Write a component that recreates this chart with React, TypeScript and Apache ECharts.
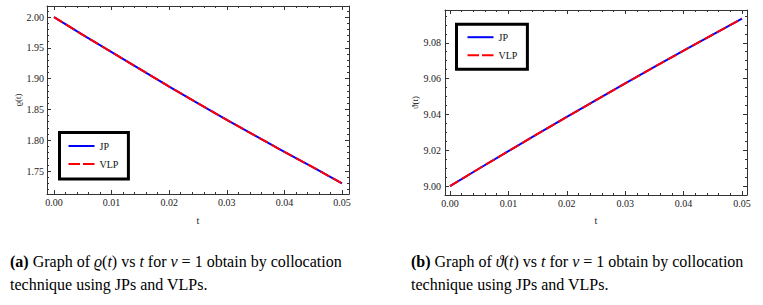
import React, { useEffect, useRef } from "react";
import * as echarts from "echarts";

// ---- data ----
const T = [0, 0.005, 0.01, 0.015, 0.02, 0.025, 0.03, 0.035, 0.04, 0.045, 0.05];
const RHO_JP = [2.0, 1.971, 1.943, 1.915, 1.887, 1.86, 1.833, 1.807, 1.781, 1.756, 1.73];
const RHO_VLP = [2.0, 1.971, 1.943, 1.915, 1.887, 1.86, 1.833, 1.807, 1.781, 1.756, 1.73];
const THETA_JP = [9.0, 9.0098, 9.0195, 9.0291, 9.0386, 9.048, 9.0573, 9.0665, 9.0756, 9.0846, 9.0935];
const THETA_VLP = [9.0, 9.0098, 9.0195, 9.0291, 9.0386, 9.048, 9.0573, 9.0665, 9.0756, 9.0846, 9.0935];

// ---- tick labels ----
const T_TICKS = [0, 0.01, 0.02, 0.03, 0.04, 0.05];
const RHO_TICKS = [1.75, 1.8, 1.85, 1.9, 1.95, 2.0];
const THETA_TICKS = [9.0, 9.02, 9.04, 9.06, 9.08];

const SERIES_NAMES = ["JP", "VLP"];
const FONT = "Liberation Serif";
const FRAME = "#333";
const BLUE = "#0000ff";
const RED = "#ff0000";
const DASH = [10, 4];

function minorTicks(start: number, step: number, lo: number, hi: number): number[] {
  const out: number[] = [];
  for (let i = 0; i < 200; i++) {
    const v = +(start + i * step).toFixed(6);
    if (v > hi) break;
    if (v > lo && v < hi) out.push(v);
  }
  return out;
}

function pairs(xs: number[], ys: number[]) {
  return xs.map((x, i) => [x, ys[i]]);
}

type Panel = {
  grid: any;
  xMin: number; xMax: number; yMin: number; yMax: number;
  yTicks: number[]; yMinorStep: number; yMinorStart: number;
  xMinorStep: number;
  yName: string; xNameGap: number; yNameGap: number;
  labelMarginY: number;
};

function buildAxes(p: Panel, g: number) {
  const xMinor = minorTicks(0, p.xMinorStep, p.xMin, p.xMax);
  const yMinor = minorTicks(p.yMinorStart, p.yMinorStep, p.yMin, p.yMax);
  const lineStyle = { color: FRAME, width: 1 };
  const base = (min: number, max: number) => ({
    type: "value",
    gridIndex: g,
    min,
    max,
    scale: true,
    splitLine: { show: false },
  });
  const xAxes = [
    {
      ...base(p.xMin, p.xMax),
      position: "bottom",
      axisLine: { show: true, onZero: false, lineStyle },
      axisTick: { show: true, inside: true, length: 4, customValues: T_TICKS, lineStyle },
      axisLabel: {
        show: true,
        customValues: T_TICKS,
        formatter: (v: number) => v.toFixed(2),
        fontFamily: FONT,
        fontSize: 10,
        color: "#222",
        margin: 3,
      },
      name: "t",
      nameLocation: "middle",
      nameGap: p.xNameGap,
      nameTextStyle: { fontFamily: FONT, fontSize: 10, color: "#222" },
    },
    {
      ...base(p.xMin, p.xMax),
      position: "bottom",
      axisLine: { show: false, onZero: false },
      axisTick: { show: true, inside: true, length: 2, customValues: xMinor, lineStyle },
      axisLabel: { show: false },
    },
    {
      ...base(p.xMin, p.xMax),
      position: "top",
      axisLine: { show: true, onZero: false, lineStyle },
      axisTick: { show: true, inside: true, length: 4, customValues: T_TICKS, lineStyle },
      axisLabel: { show: false },
    },
    {
      ...base(p.xMin, p.xMax),
      position: "top",
      axisLine: { show: false, onZero: false },
      axisTick: { show: true, inside: true, length: 2, customValues: xMinor, lineStyle },
      axisLabel: { show: false },
    },
  ];
  const yAxes = [
    {
      ...base(p.yMin, p.yMax),
      position: "left",
      axisLine: { show: true, onZero: false, lineStyle },
      axisTick: { show: true, inside: true, length: 4, customValues: p.yTicks, lineStyle },
      axisLabel: {
        show: true,
        customValues: p.yTicks,
        formatter: (v: number) => v.toFixed(2),
        fontFamily: FONT,
        fontSize: 10,
        color: "#222",
        margin: p.labelMarginY,
      },
      name: p.yName,
      nameLocation: "middle",
      nameGap: p.yNameGap,
      nameRotate: 90,
      nameTextStyle: { fontFamily: FONT, fontSize: 9, color: "#222" },
    },
    {
      ...base(p.yMin, p.yMax),
      position: "left",
      axisLine: { show: false, onZero: false },
      axisTick: { show: true, inside: true, length: 2, customValues: yMinor, lineStyle },
      axisLabel: { show: false },
    },
    {
      ...base(p.yMin, p.yMax),
      position: "right",
      axisLine: { show: true, onZero: false, lineStyle },
      axisTick: { show: true, inside: true, length: 4, customValues: p.yTicks, lineStyle },
      axisLabel: { show: false },
    },
    {
      ...base(p.yMin, p.yMax),
      position: "right",
      axisLine: { show: false, onZero: false },
      axisTick: { show: true, inside: true, length: 2, customValues: yMinor, lineStyle },
      axisLabel: { show: false },
    },
  ];
  return { xAxes, yAxes };
}

export default function App() {
  const ref = useRef<HTMLDivElement>(null);
  useEffect(() => {
    if (!ref.current) return;
    const chart = echarts.init(ref.current, undefined, { renderer: "svg" });

    const panels: Panel[] = [
      {
        grid: { left: 47, top: 6, width: 302, height: 188 },
        xMin: -0.00122, xMax: 0.05122, yMin: 1.7127, yMax: 2.0179,
        yTicks: RHO_TICKS, yMinorStep: 0.01, yMinorStart: 1.7,
        xMinorStep: 0.002,
        yName: "ϱ(t)", xNameGap: 21, yNameGap: 24, labelMarginY: 3,
      },
      {
        grid: { left: 445, top: 10, width: 302, height: 185 },
        xMin: -0.00086, xMax: 0.05086, yMin: 8.995, yMax: 9.0983,
        yTicks: THETA_TICKS, yMinorStep: 0.005, yMinorStart: 8.99,
        xMinorStep: 0.002,
        yName: "ϑ(t)", xNameGap: 20, yNameGap: 22, labelMarginY: 4,
      },
    ];

    const xAxis: any[] = [];
    const yAxis: any[] = [];
    panels.forEach((p, g) => {
      const { xAxes, yAxes } = buildAxes(p, g);
      xAxis.push(...xAxes);
      yAxis.push(...yAxes);
    });

    const lineSeries = (name: string, data: number[], g: number, dashed: boolean) => ({
      type: "line",
      name,
      xAxisIndex: g * 4,
      yAxisIndex: g * 4,
      data: pairs(T, data),
      symbol: "none",
      smooth: false,
      z: dashed ? 3 : 2,
      lineStyle: {
        color: dashed ? RED : BLUE,
        width: 2,
        type: dashed ? DASH : "solid",
      },
      itemStyle: { color: dashed ? RED : BLUE },
    });

    const legendBase = {
      orient: "vertical",
      itemWidth: 26,
      itemHeight: 10,
      itemGap: 8,
      data: [
        { name: SERIES_NAMES[0], lineStyle: { color: BLUE, width: 2, type: "solid" } },
        { name: SERIES_NAMES[1], lineStyle: { color: RED, width: 2, type: [11.5, 3] } },
      ],
      itemStyle: { opacity: 0 },
      borderColor: "#000",
      borderWidth: 3,
      textStyle: { fontFamily: FONT, fontSize: 10, color: "#111" },
      selectedMode: false,
    };

    const captionRich = {
      b: { fontFamily: FONT, fontSize: 16, fontWeight: "bold", color: "#000" },
      i: { fontFamily: FONT, fontSize: 16, fontStyle: "italic", color: "#000" },
      n: { fontFamily: FONT, fontSize: 16, color: "#000" },
    };

    chart.setOption({
      animation: false,
      backgroundColor: "#fff",
      grid: panels.map((p) => ({ ...p.grid, containLabel: false, outerBoundsMode: "none" })),
      xAxis,
      yAxis,
      legend: [
        { ...legendBase, left: 59.5, top: 132.5, padding: [8.5, 10, 10, 8] },
        { ...legendBase, left: 456.5, top: 24.2, padding: [8, 10, 9, 10] },
      ],
      title: [
        {
          left: 10,
          top: 250,
          padding: 0,
          text:
            "{b|(a)}{n| Graph of }{i|ϱ}{n|(}{i|t}{n|) vs }{i|t}{n| for }{i|ν}{n| = 1 obtain by collocation}\n{n|technique using JPs and VLPs.}",
          textStyle: { fontFamily: FONT, fontSize: 16, fontWeight: "normal", color: "#000", lineHeight: 23, rich: captionRich },
        },
        {
          left: 411,
          top: 250,
          padding: 0,
          text:
            "{b|(b)}{n| Graph of }{i|ϑ}{n|(}{i|t}{n|) vs }{i|t}{n| for }{i|ν}{n| = 1 obtain by collocation}\n{n|technique using JPs and VLPs.}",
          textStyle: { fontFamily: FONT, fontSize: 16, fontWeight: "normal", color: "#000", lineHeight: 23, rich: captionRich },
        },
      ],
      series: [
        lineSeries(SERIES_NAMES[0], RHO_JP, 0, false),
        lineSeries(SERIES_NAMES[1], RHO_VLP, 0, true),
        lineSeries(SERIES_NAMES[0], THETA_JP, 1, false),
        lineSeries(SERIES_NAMES[1], THETA_VLP, 1, true),
      ],
    });

    return () => chart.dispose();
  }, []);

  return (
    <div
      ref={ref}
      style={{ position: "fixed", left: 0, top: 0, width: 763, height: 305, background: "#fff" }}
    />
  );
}
